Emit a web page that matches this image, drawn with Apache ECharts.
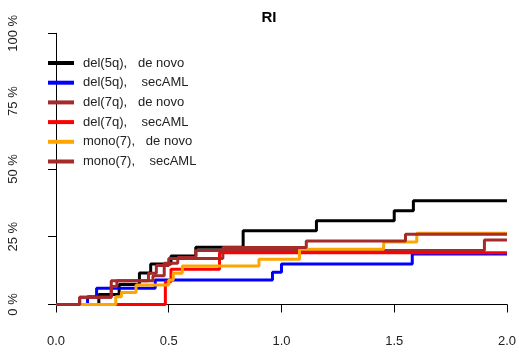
<!DOCTYPE html>
<html>
<head>
<meta charset="utf-8">
<script src="https://cdn.jsdelivr.net/npm/echarts@6/dist/echarts.min.js"></script>
<style>
html,body{margin:0;padding:0;background:#fff;}
#c{width:519px;height:354px;}
</style>
</head>
<body>
<div id="c"></div>
<script>
// Tick labels
const xTicks = [0, 0.5, 1.0, 1.5, 2.0];
const yTicks = [0, 25, 50, 75, 100];

// Series names
const seriesNames = [
  'del(5q),   de novo',
  'del(5q),    secAML',
  'del(7q),   de novo',
  'del(7q),    secAML',
  'mono(7),   de novo',
  'mono(7),    secAML'
];

// del(5q), de novo  (time in years, cumulative incidence %)
const del5qDeNovoT = [0, 0.19, 0.28, 0.37, 0.42, 0.51, 0.62, 0.83, 1.155, 1.5, 1.585, 2.0];
const del5qDeNovoV = [0, 3.7, 7.4, 11.6, 14.9, 17.9, 21.1, 27.2, 30.9, 34.6, 38.3, 38.3];

// del(5q), secAML
const del5qSecT = [0, 0.14, 0.18, 0.44, 0.96, 1.0, 1.58, 2.0];
const del5qSecV = [0, 2.9, 6.0, 9.0, 11.9, 14.9, 18.6, 18.6];

// del(7q), de novo
const del7qDeNovoT = [0, 0.105, 0.245, 0.27, 0.43, 0.48, 0.54, 0.62, 1.9, 2.0];
const del7qDeNovoV = [0, 2.7, 6.6, 8.8, 10.6, 15.2, 17.3, 19.9, 23.8, 23.8];

// del(7q), secAML
const del7qSecT = [0, 0.485, 0.51, 0.725, 2.0];
const del7qSecV = [0, 8.4, 13.0, 19.1, 19.1];

// mono(7), de novo
const mono7DeNovoT = [0, 0.265, 0.29, 0.355, 0.5, 0.52, 0.56, 0.9, 1.08, 1.453, 1.6, 2.0];
const mono7DeNovoV = [0, 2.9, 4.4, 7.2, 9.0, 11.5, 14.2, 16.7, 20.4, 23.0, 26.3, 26.3];

// mono(7), secAML
const mono7SecT = [0, 0.105, 0.245, 0.41, 0.445, 0.5, 0.74, 1.11, 1.55, 2.0];
const mono7SecV = [0, 2.7, 8.8, 11.5, 14.4, 17.0, 21.0, 23.4, 25.9, 25.9];

const colors = ['#000000', '#0000FF', '#A52A2A', '#FF0000', '#FFA500', '#A52A2A'];
const seriesT = [del5qDeNovoT, del5qSecT, del7qDeNovoT, del7qSecT, mono7DeNovoT, mono7SecT];
const seriesV = [del5qDeNovoV, del5qSecV, del7qDeNovoV, del7qSecV, mono7DeNovoV, mono7SecV];

const chart = echarts.init(document.getElementById('c'), null, {renderer: 'canvas'});
const font = 'Liberation Sans, Arial, sans-serif';

const series = seriesNames.map((name, i) => ({
  name: name,
  type: 'line',
  step: 'end',
  showSymbol: false,
  symbol: 'none',
  animation: false,
  lineStyle: {color: colors[i], width: 3},
  itemStyle: {color: colors[i]},
  data: seriesT[i].map((t, j) => [t, seriesV[i][j]])
}));

chart.setOption({
  animation: false,
  backgroundColor: '#ffffff',
  title: {
    text: 'RI',
    left: 264,
    top: 5,
    textAlign: 'center',
    textStyle: {fontFamily: font, fontSize: 15, fontWeight: 'bold', color: '#000'}
  },
  legend: {
    orient: 'vertical',
    left: 43,
    top: 51.5,
    itemWidth: 26,
    itemHeight: 4,
    itemGap: 6.7,
    icon: 'rect',
    textStyle: {fontFamily: font, fontSize: 13, color: '#222', padding: [0, 0, 0, 4]},
    data: seriesNames.map((n, i) => ({name: n, itemStyle: {color: colors[i]}}))
  },
  grid: {left: 56, right: 9, top: 33.3, bottom: 49.5, containLabel: false},
  xAxis: {
    type: 'value',
    min: 0, max: 2, interval: 0.5,
    offset: 10.5,
    axisLine: {show: true, lineStyle: {color: '#000', width: 1}},
    axisTick: {show: true, length: 8, lineStyle: {color: '#000'}},
    axisLabel: {
      fontFamily: font, fontSize: 13, color: '#222', margin: 20,
      formatter: v => xTicks.includes(v) ? v.toFixed(1) : ''
    },
    splitLine: {show: false}
  },
  yAxis: {
    type: 'value',
    min: 0, max: 100, interval: 25,
    offset: 18,
    axisLine: {show: true, lineStyle: {color: '#000', width: 1}},
    axisTick: {show: true, length: 8, lineStyle: {color: '#000'}},
    axisLabel: {
      fontFamily: font, fontSize: 13, color: '#222', margin: 18, rotate: 90,
      formatter: v => yTicks.includes(v) ? v + ' %' : ''
    },
    splitLine: {show: false}
  },
  series: series
});
</script>
</body>
</html>
